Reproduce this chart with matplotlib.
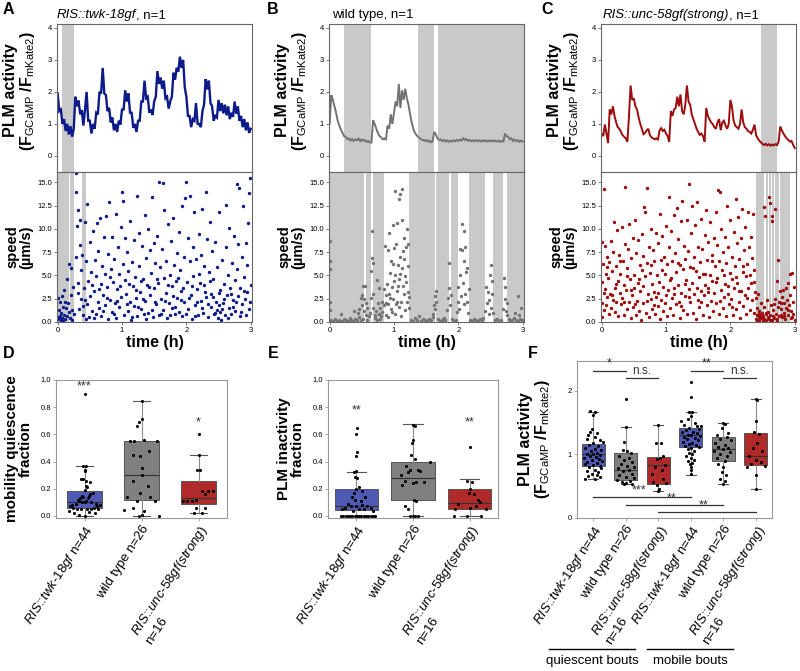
import numpy as np
import matplotlib
matplotlib.use('Agg')
from matplotlib import pyplot as plt
from matplotlib.lines import Line2D
from matplotlib.ticker import FormatStrFormatter

plt.rcParams['font.family'] = ['Liberation Sans', 'DejaVu Sans']
plt.rcParams['mathtext.fontset'] = 'custom'
plt.rcParams['mathtext.rm'] = 'Liberation Sans'
plt.rcParams['mathtext.it'] = 'Liberation Sans:italic'
plt.rcParams['mathtext.bf'] = 'Liberation Sans:bold'

# ---------------- A-C: PLM traces, one value every 0.025 h (0 .. 3 h) ----------------
trace_twk = [
    1.95, 1.40, 1.45, 1.00, 1.15, 0.78, 1.00, 0.67,   # 0.0
    0.93, 0.60, 0.85, 1.85, 1.55, 1.73, 1.30, 1.43,   # 0.2
    0.95, 1.45, 2.00, 1.10, 1.10, 0.70, 1.00, 0.85,   # 0.4
    1.35, 1.30, 2.00, 1.95, 2.75, 1.95, 1.90, 1.40,   # 0.6
    1.50, 1.05, 1.20, 0.80, 1.00, 0.75, 1.10, 0.98,   # 0.8
    1.45, 1.45, 2.05, 1.70, 1.95, 1.35, 1.35, 0.88,   # 1.0
    1.00, 0.75, 1.10, 1.10, 1.70, 1.70, 2.35, 1.80,   # 1.2
    1.85, 1.35, 1.45, 1.28, 1.70, 1.85, 2.65, 2.25,   # 1.4
    2.45, 2.10, 2.35, 1.80, 1.85, 1.48, 1.70, 1.85,   # 1.6
    2.60, 2.38, 2.75, 2.63, 3.10, 2.75, 3.00, 2.15,   # 1.8
    1.85, 1.25, 1.25, 0.90, 1.15, 1.10, 1.65, 1.00,   # 2.0
    1.00, 0.90, 1.40, 1.60, 2.40, 2.08, 2.35, 1.65,   # 2.2
    1.55, 1.10, 1.25, 1.20, 1.75, 1.40, 1.65, 1.33,   # 2.4
    1.60, 1.27, 1.55, 1.15, 1.35, 1.22, 1.70, 1.32,   # 2.6
    1.55, 1.10, 1.25, 0.90, 1.15, 0.80, 1.05, 0.72,   # 2.8
    0.85]
trace_wt = [
    1.00, 1.90, 1.75, 1.55, 1.35, 1.10, 0.95, 0.82,
    0.72, 0.62, 0.60, 0.52, 0.55, 0.48, 0.53, 0.47,
    0.52, 0.49, 0.54, 0.46, 0.52, 0.47, 0.50, 0.44,
    0.47, 0.42, 0.42, 1.12, 1.00, 0.85, 0.72, 0.62,
    0.58, 0.52, 0.55, 0.50, 0.95, 0.85, 1.30, 1.00,
    1.35, 1.70, 1.55, 2.25, 1.50, 2.05, 1.75, 2.10,
    1.80, 1.60, 1.30, 1.05, 0.85, 0.72, 0.65, 0.60,
    0.55, 0.52, 0.50, 0.47, 0.50, 0.45, 0.48, 0.43,
    0.46, 0.75, 0.68, 0.55, 0.50, 0.52, 0.47, 0.50,
    0.45, 0.49, 0.44, 0.48, 0.45, 0.49, 0.46, 0.50,
    0.47, 0.51, 0.48, 0.55, 0.50, 0.53, 0.47, 0.50,
    0.46, 0.49, 0.46, 0.50, 0.46, 0.49, 0.45, 0.49,
    0.46, 0.49, 0.45, 0.48, 0.45, 0.49, 0.46, 0.48,
    0.45, 0.48, 0.44, 0.47, 0.45, 0.70, 0.62, 0.60,
    0.52, 0.55, 0.47, 0.51, 0.46, 0.50, 0.44, 0.48,
    0.45]
trace_unc = [
    0.70, 0.62, 0.98, 0.70, 0.40, 1.45, 1.30, 1.55,
    1.25, 1.05, 0.90, 0.85, 0.75, 0.65, 0.60, 0.55,
    0.45, 1.25, 2.20, 1.75, 1.80, 1.55, 1.45, 1.20,
    1.00, 0.85, 0.68, 0.72, 0.80, 0.85, 0.65, 0.58,
    0.55, 0.52, 0.55, 0.50, 0.80, 0.87, 0.78, 0.82,
    0.70, 0.62, 0.45, 1.40, 1.25, 1.45, 1.50, 1.85,
    1.55, 1.92, 1.40, 1.30, 1.60, 2.20, 1.70, 1.60,
    1.30, 1.15, 1.00, 0.85, 0.75, 0.66, 0.70, 0.62,
    0.45, 1.50, 1.25, 1.15, 1.05, 1.00, 0.90, 0.85,
    1.05, 1.15, 0.80, 1.05, 1.10, 0.95, 0.85, 1.00,
    1.75, 1.55, 1.10, 0.95, 0.90, 0.85, 1.00, 1.45,
    1.05, 0.90, 0.85, 0.78, 0.75, 0.70, 0.82, 0.98,
    0.65, 0.55, 0.48, 0.42, 0.38, 0.34, 0.38, 0.33,
    0.37, 0.32, 0.36, 0.33, 0.37, 0.34, 0.45, 0.92,
    0.80, 0.70, 0.62, 0.55, 0.50, 0.45, 0.47, 0.35,
    0.25]

# quiescence bouts (h) shown as grey bands
twk_bouts_trace = [(0.06, 0.25)]
twk_bouts_speed = [(0.0, 0.18), (0.19, 0.25), (0.375, 0.435)]
wt_bouts_trace = [(0.22, 0.65), (1.38, 1.62), (1.69, 3.02)]
wt_bouts_speed = [(0.0, 0.54), (0.56, 0.64), (0.67, 0.76), (0.77, 0.84), (1.24, 1.63),
                  (1.66, 1.85), (1.88, 1.99), (2.16, 2.42), (2.54, 2.70), (2.76, 3.02)]
unc_bouts_trace = [(2.47, 2.73)]
unc_bouts_speed = [(2.40, 2.53), (2.55, 2.58), (2.60, 2.63), (2.65, 2.68), (2.70, 2.75), (2.77, 2.92)]

# speed samples (time h, speed um/s)
speed_twk = [
    (0.00, 0.5), (0.01, 2.6), (0.02, 0.3), (0.02, 1.3), (0.03, 0.6), (0.04, 2.1), (0.05, 0.2), (0.05, 1.0),
    (0.06, 2.8), (0.07, 0.4), (0.08, 1.6), (0.09, 0.1), (0.10, 3.4), (0.10, 0.8), (0.11, 2.2), (0.12, 0.3),
    (0.13, 1.5), (0.14, 4.6), (0.15, 0.6), (0.16, 2.0), (0.17, 1.1), (0.18, 6.2), (0.19, 0.4), (0.20, 2.9),
    (0.21, 5.8), (0.22, 1.3), (0.23, 0.2), (0.24, 3.8), (0.25, 0.9), (0.28, 16.0), (0.28, 14.0), (0.29, 7.0),
    (0.30, 10.3), (0.31, 4.2), (0.32, 12.0), (0.33, 1.4), (0.34, 11.0), (0.35, 8.3), (0.36, 5.6), (0.37, 2.5),
    (0.38, 7.2), (0.40, 0.8), (0.41, 3.6), (0.43, 10.7), (0.44, 6.5), (0.45, 1.9), (0.46, 12.7), (0.47, 4.4),
    (0.48, 0.5), (0.50, 8.6), (0.51, 2.8), (0.52, 5.4), (0.54, 1.2), (0.55, 9.8), (0.56, 3.3), (0.58, 6.7),
    (0.59, 0.9), (0.60, 4.9), (0.61, 10.6), (0.62, 2.2), (0.63, 7.6), (0.65, 1.5), (0.66, 11.2), (0.67, 4.1),
    (0.68, 0.6), (0.69, 6.0), (0.70, 2.9), (0.72, 9.1), (0.73, 5.2), (0.74, 1.8), (0.75, 11.4), (0.77, 3.8),
    (0.78, 0.3), (0.79, 7.3), (0.80, 12.9), (0.81, 2.4), (0.83, 5.7), (0.84, 9.1), (0.85, 1.1), (0.86, 4.3),
    (0.88, 6.8), (0.89, 2.0), (0.90, 11.6), (0.91, 0.4), (0.93, 3.5), (0.94, 8.0), (0.95, 5.1), (0.96, 1.6),
    (0.98, 10.2), (0.99, 2.7), (1.00, 13.9), (1.01, 6.2), (1.02, 13.0), (1.03, 0.8), (1.04, 4.5), (1.05, 9.0),
    (1.06, 3.0), (1.08, 7.5), (1.09, 1.2), (1.10, 5.5), (1.12, 2.1), (1.13, 10.8), (1.14, 0.2), (1.15, 6.4),
    (1.17, 3.9), (1.18, 8.8), (1.19, 1.7), (1.20, 4.8), (1.22, 2.6), (1.23, 13.5), (1.24, 0.6), (1.26, 6.0),
    (1.27, 9.5), (1.28, 3.2), (1.30, 1.4), (1.31, 8.2), (1.32, 4.6), (1.34, 0.9), (1.35, 11.5), (1.36, 2.3),
    (1.38, 6.9), (1.39, 4.0), (1.40, 10.0), (1.41, 1.0), (1.43, 7.7), (1.44, 2.9), (1.45, 5.3), (1.47, 13.4),
    (1.48, 0.5), (1.49, 8.5), (1.50, 3.6), (1.52, 6.3), (1.53, 1.9), (1.54, 9.2), (1.56, 4.2), (1.57, 0.7),
    (1.58, 15.0), (1.59, 5.9), (1.60, 2.5), (1.62, 7.8), (1.63, 14.9), (1.64, 1.3), (1.65, 12.0), (1.66, 4.7),
    (1.68, 3.1), (1.69, 6.6), (1.70, 0.4), (1.72, 10.5), (1.73, 2.0), (1.74, 5.0), (1.76, 8.7), (1.77, 1.5),
    (1.78, 3.9), (1.80, 11.2), (1.81, 6.1), (1.82, 0.9), (1.84, 4.4), (1.85, 7.4), (1.86, 2.6), (1.88, 9.7),
    (1.89, 1.1), (1.90, 5.6), (1.92, 3.3), (1.93, 12.5), (1.94, 0.6), (1.96, 7.0), (1.97, 2.1), (1.98, 13.3),
    (2.00, 15.0), (2.01, 4.3), (2.02, 9.0), (2.03, 1.4), (2.05, 6.5), (2.06, 13.5), (2.07, 2.9), (2.08, 0.3),
    (2.10, 8.0), (2.11, 4.9), (2.12, 11.8), (2.14, 1.8), (2.15, 6.8), (2.16, 3.5), (2.18, 0.8), (2.19, 9.4),
    (2.20, 5.2), (2.22, 2.3), (2.23, 7.2), (2.24, 12.1), (2.26, 1.0), (2.27, 4.0), (2.28, 6.0), (2.30, 14.0),
    (2.31, 2.7), (2.32, 8.9), (2.34, 0.5), (2.35, 5.4), (2.36, 10.7), (2.38, 3.0), (2.39, 1.6), (2.40, 7.6),
    (2.42, 4.6), (2.43, 0.9), (2.44, 8.6), (2.46, 2.2), (2.47, 1.3), (2.48, 5.9), (2.49, 0.4), (2.50, 1.8),
    (2.51, 11.8), (2.52, 1.1), (2.53, 3.4), (2.54, 0.2), (2.56, 6.7), (2.57, 2.0), (2.58, 4.1), (2.60, 0.7),
    (2.61, 12.6), (2.62, 8.0), (2.63, 2.9), (2.65, 5.0), (2.66, 1.5), (2.67, 10.1), (2.68, 3.7), (2.70, 0.9),
    (2.71, 6.3), (2.72, 2.4), (2.74, 9.2), (2.75, 4.5), (2.76, 1.2), (2.78, 14.8), (2.79, 5.7), (2.80, 2.8),
    (2.81, 8.4), (2.82, 14.4), (2.83, 0.6), (2.84, 3.6), (2.86, 7.0), (2.87, 1.9), (2.88, 12.4), (2.89, 4.8),
    (2.91, 2.5), (2.92, 8.5), (2.93, 0.8), (2.94, 6.1), (2.95, 3.2), (2.96, 10.6), (2.97, 1.4), (2.98, 13.8),
    (2.99, 15.5), (3.00, 4.0),
    # extra low-speed samples (dense band below 5 um/s)
    (0.32, 3.1), (0.39, 1.7), (0.42, 2.4), (0.53, 4.0), (0.57, 0.4), (0.64, 3.5), (0.71, 1.2), (0.76, 2.6),
    (0.82, 4.8), (0.87, 0.9), (0.92, 2.3), (0.97, 3.9), (1.07, 1.9), (1.11, 4.1), (1.16, 0.5), (1.21, 3.4),
    (1.25, 1.6), (1.29, 4.4), (1.33, 2.5), (1.37, 0.3), (1.42, 3.8), (1.46, 1.3), (1.51, 2.2), (1.55, 4.6),
    (1.61, 0.9), (1.67, 2.3), (1.71, 4.0), (1.75, 0.8), (1.79, 2.8), (1.83, 1.6), (1.87, 4.7), (1.91, 2.4),
    (1.95, 3.7), (1.99, 0.9), (2.04, 2.6), (2.09, 3.9), (2.13, 0.6), (2.17, 2.1), (2.21, 4.2), (2.25, 1.5),
    (2.29, 3.2), (2.33, 1.9), (2.37, 4.4), (2.41, 2.7), (2.45, 1.0), (2.50, 3.1), (2.55, 1.4), (2.59, 2.5),
    (2.64, 0.4), (2.69, 3.0), (2.73, 1.6), (2.77, 2.2), (2.85, 1.1), (2.90, 3.3), (2.99, 2.2), (0.44, 0.3)]
speed_wt = [
    (0.00, 8.7), (0.00, 6.5), (0.00, 5.7), (0.00, 2.2), (0.00, 1.3),
    (0.02, 0.2), (0.05, 0.1), (0.08, 0.3), (0.11, 0.1), (0.14, 0.2), (0.17, 0.9), (0.19, 0.1), (0.22, 0.3),
    (0.25, 0.2), (0.28, 0.1), (0.31, 0.4), (0.33, 0.2), (0.36, 0.1), (0.38, 1.2), (0.40, 0.3), (0.43, 0.2),
    (0.44, 1.0), (0.46, 1.4), (0.48, 2.6), (0.50, 1.8), (0.51, 2.9), (0.52, 3.9), (0.53, 1.2), (0.54, 2.5),
    (0.55, 3.9), (0.56, 0.8), (0.57, 2.0), (0.58, 1.5), (0.46, 0.5), (0.49, 0.2), (0.52, 0.3), (0.58, 0.2),
    (0.61, 0.6), (0.62, 1.0), (0.64, 2.6), (0.65, 5.5), (0.66, 9.8), (0.66, 6.9), (0.67, 6.3), (0.68, 3.0),
    (0.68, 1.5), (0.70, 0.8), (0.70, 0.4), (0.72, 1.2), (0.73, 0.2), (0.74, 4.5), (0.75, 2.0), (0.76, 0.9),
    (0.77, 3.7), (0.78, 1.5), (0.79, 0.3), (0.80, 0.6), (0.81, 2.2), (0.82, 1.1),
    (0.84, 3.5), (0.85, 1.8), (0.86, 8.2), (0.87, 2.9), (0.88, 0.7), (0.89, 4.1), (0.90, 1.9), (0.91, 7.7),
    (0.92, 3.0), (0.93, 9.5), (0.94, 5.3), (0.95, 1.4), (0.96, 6.6), (0.97, 3.8), (0.98, 10.4), (0.99, 2.5),
    (1.00, 7.9), (1.01, 14.1), (1.02, 5.0), (1.02, 0.9), (1.03, 8.4), (1.04, 3.3), (1.05, 10.6), (1.06, 6.1),
    (1.07, 1.6), (1.08, 13.2), (1.08, 4.6), (1.09, 13.7), (1.10, 7.0), (1.11, 2.2), (1.12, 11.0), (1.12, 5.8),
    (1.13, 14.3), (1.14, 3.9), (1.15, 9.0), (1.16, 6.8), (1.17, 1.3), (1.18, 8.0), (1.19, 4.3), (1.20, 10.0),
    (1.21, 3.2), (1.22, 6.0), (1.23, 1.5), (1.23, 2.7),
    (0.88, 2.0), (0.91, 0.5), (0.94, 2.6), (0.97, 1.1), (1.00, 4.4), (1.03, 1.9), (1.06, 3.9), (1.09, 5.2),
    (1.11, 0.6), (1.14, 7.6), (1.17, 4.9), (1.20, 2.1), (1.22, 8.4), (1.05, 2.2), (0.99, 6.2), (1.16, 3.0),
    (1.27, 0.2), (1.30, 0.1), (1.33, 0.4), (1.36, 0.2), (1.39, 0.6), (1.42, 0.1), (1.45, 0.3), (1.48, 0.2),
    (1.51, 0.1), (1.54, 0.3), (1.57, 0.2), (1.60, 0.5), (1.61, 0.9), (1.62, 1.8), (1.63, 2.8), (1.64, 1.4),
    (1.65, 3.3), (1.66, 2.1), (1.68, 0.3), (1.71, 0.1), (1.74, 0.2), (1.77, 0.4), (1.80, 0.2),
    (1.83, 1.3), (1.84, 2.6), (1.85, 6.3), (1.86, 3.7), (1.87, 1.8), (1.88, 2.9), (1.90, 0.3), (1.93, 0.1),
    (1.96, 0.2), (1.98, 1.1), (1.99, 2.2), (2.00, 3.8), (2.01, 1.4), (2.02, 7.8), (2.03, 5.0), (2.04, 2.8),
    (2.05, 10.5), (2.06, 7.7), (2.07, 4.2), (2.08, 9.8), (2.08, 1.9), (2.09, 6.5), (2.10, 3.0), (2.11, 8.0),
    (2.12, 5.4), (2.13, 2.1), (2.14, 5.8), (2.15, 1.0), (2.16, 3.5),
    (2.18, 0.2), (2.21, 0.1), (2.24, 0.3), (2.27, 0.2), (2.30, 0.1), (2.33, 0.3), (2.36, 0.2), (2.39, 0.4),
    (2.42, 1.2), (2.43, 3.8), (2.44, 2.0), (2.46, 3.2), (2.47, 0.9), (2.48, 2.4), (2.49, 5.0), (2.50, 1.5),
    (2.51, 6.1), (2.52, 3.0), (2.53, 4.4), (2.54, 1.0), (2.57, 0.2), (2.60, 0.3), (2.63, 0.1), (2.66, 0.2),
    (2.70, 1.4), (2.71, 4.7), (2.72, 2.5), (2.73, 3.8), (2.74, 1.2), (2.75, 2.0), (2.76, 0.8),
    (2.78, 0.3), (2.81, 0.1), (2.84, 0.2), (2.87, 0.4), (2.88, 1.0), (2.90, 0.2), (2.92, 2.8), (2.93, 0.1),
    (2.95, 0.8), (2.96, 0.3), (2.98, 1.5), (2.99, 0.2)]
speed_unc = [
    (0.00, 4.3), (0.00, 0.5), (0.01, 8.6), (0.01, 2.0), (0.02, 6.2), (0.03, 1.3), (0.04, 14.3), (0.05, 8.2),
    (0.05, 3.5), (0.06, 5.1), (0.07, 1.8), (0.08, 7.0), (0.09, 2.7), (0.10, 4.7), (0.11, 0.9), (0.12, 6.4),
    (0.13, 3.0), (0.14, 8.7), (0.15, 1.5), (0.16, 5.5), (0.17, 2.4), (0.18, 7.5), (0.19, 10.7), (0.20, 3.7),
    (0.21, 1.1), (0.22, 6.0), (0.23, 2.2), (0.24, 9.9), (0.25, 4.4), (0.26, 0.6), (0.27, 7.2), (0.28, 3.1),
    (0.29, 5.2), (0.30, 1.9), (0.31, 10.2), (0.32, 2.6), (0.33, 6.6), (0.34, 4.0), (0.35, 0.8), (0.36, 8.4),
    (0.37, 14.5), (0.38, 3.4), (0.39, 5.8), (0.40, 1.4), (0.41, 7.8), (0.42, 2.1), (0.43, 10.5), (0.44, 4.6),
    (0.45, 0.4), (0.46, 6.9), (0.47, 2.9), (0.48, 9.0), (0.49, 1.6), (0.50, 5.0), (0.51, 3.6), (0.52, 11.0),
    (0.53, 0.7), (0.54, 7.4), (0.55, 2.3), (0.56, 4.2), (0.57, 8.8), (0.58, 1.2), (0.59, 6.1), (0.60, 3.3),
    (0.61, 0.2), (0.62, 9.4), (0.63, 5.6), (0.64, 2.0), (0.65, 7.1), (0.66, 12.3), (0.67, 4.9), (0.68, 11.8),
    (0.69, 1.0), (0.70, 14.4), (0.71, 6.3), (0.72, 3.0), (0.73, 8.1), (0.74, 0.5), (0.75, 5.3), (0.76, 2.5),
    (0.77, 10.0), (0.78, 4.1), (0.79, 1.4), (0.80, 7.7), (0.81, 3.2), (0.82, 6.5), (0.83, 0.9), (0.84, 9.6),
    (0.85, 2.7), (0.86, 5.0), (0.87, 1.7), (0.88, 8.5), (0.89, 4.3), (0.90, 11.6), (0.91, 0.3), (0.92, 6.7),
    (0.93, 2.4), (0.94, 9.2), (0.95, 3.8), (0.96, 1.2), (0.97, 7.0), (0.98, 5.1), (0.99, 2.0), (1.00, 10.3),
    (1.01, 0.6), (1.02, 6.2), (1.03, 3.4), (1.04, 8.0), (1.05, 13.4), (1.06, 1.5), (1.07, 4.7), (1.08, 9.8),
    (1.09, 2.6), (1.10, 6.6), (1.11, 0.8), (1.12, 11.5), (1.13, 3.7), (1.14, 7.4), (1.15, 5.4), (1.16, 1.9),
    (1.17, 12.2), (1.18, 4.0), (1.19, 8.9), (1.20, 2.2), (1.21, 6.1), (1.22, 0.4), (1.23, 10.8), (1.24, 3.1),
    (1.25, 13.0), (1.26, 5.7), (1.27, 1.3), (1.28, 8.2), (1.29, 2.8), (1.30, 6.8), (1.31, 4.5), (1.32, 11.0),
    (1.33, 0.9), (1.34, 7.6), (1.35, 3.5), (1.36, 14.8), (1.37, 5.9), (1.38, 2.1), (1.39, 9.5), (1.40, 12.5),
    (1.41, 4.2), (1.42, 1.0), (1.43, 7.0), (1.44, 3.0), (1.45, 10.4), (1.46, 5.5), (1.47, 0.3), (1.48, 12.9),
    (1.49, 2.4), (1.50, 8.0), (1.51, 4.8), (1.52, 1.6), (1.53, 6.4), (1.54, 11.1), (1.55, 3.3), (1.56, 7.8),
    (1.57, 0.7), (1.58, 5.2), (1.59, 2.9), (1.60, 9.3), (1.61, 4.0), (1.62, 12.0), (1.63, 1.8), (1.64, 6.7),
    (1.65, 3.6), (1.66, 8.6), (1.67, 0.5), (1.68, 5.0), (1.69, 10.7), (1.70, 2.3), (1.71, 7.2), (1.72, 4.4),
    (1.73, 1.2), (1.74, 9.0), (1.75, 3.1), (1.76, 6.0), (1.77, 11.8), (1.78, 2.0), (1.79, 8.3), (1.80, 4.7),
    (1.81, 14.2), (1.82, 0.9), (1.83, 6.5), (1.84, 13.9), (1.85, 3.4), (1.86, 10.0), (1.87, 5.6), (1.88, 1.5),
    (1.89, 7.5), (1.90, 2.7), (1.91, 9.1), (1.92, 4.1), (1.93, 0.6), (1.94, 6.3), (1.95, 12.4), (1.96, 3.0),
    (1.97, 8.1), (1.98, 1.9), (1.99, 5.3), (2.00, 10.9), (2.01, 2.5), (2.02, 7.0), (2.03, 4.6), (2.04, 0.8),
    (2.05, 9.7), (2.06, 3.7), (2.07, 6.0), (2.08, 13.2), (2.09, 1.4), (2.10, 8.5), (2.11, 4.2), (2.12, 11.3),
    (2.13, 2.2), (2.14, 6.8), (2.15, 0.4), (2.16, 9.0), (2.17, 3.3), (2.18, 12.1), (2.19, 5.4), (2.20, 1.7),
    (2.21, 7.7), (2.22, 2.9), (2.23, 10.2), (2.24, 4.9), (2.25, 0.9), (2.26, 6.2), (2.27, 11.8), (2.28, 3.6),
    (2.29, 8.0), (2.30, 1.3), (2.31, 5.0), (2.32, 9.1), (2.33, 2.4), (2.34, 6.9), (2.35, 11.6), (2.36, 4.3),
    (2.37, 1.0), (2.38, 3.2),
    (0.03, 3.1), (0.09, 5.9), (0.16, 2.9), (0.22, 4.1), (0.28, 6.5), (0.34, 2.2), (0.40, 4.9), (0.46, 3.4),
    (0.52, 1.9), (0.58, 4.6), (0.64, 3.9), (0.70, 2.3), (0.76, 6.1), (0.82, 1.8), (0.88, 3.1), (0.94, 5.6),
    (1.00, 2.9), (1.06, 4.5), (1.12, 3.0), (1.18, 6.3), (1.24, 1.7), (1.30, 4.1), (1.36, 2.7), (1.42, 5.8),
    (1.48, 3.6), (1.54, 2.1), (1.60, 5.1), (1.66, 3.2), (1.72, 6.6), (1.78, 4.3), (1.84, 2.3), (1.90, 5.0),
    (1.96, 3.9), (2.02, 1.6), (2.08, 4.8), (2.14, 3.3), (2.20, 6.0), (2.26, 2.6), (2.32, 4.2), (2.37, 5.6),
    (2.40, 0.3), (2.40, 2.6), (2.41, 0.8), (2.42, 1.5), (2.42, 0.1), (2.43, 3.0), (2.44, 0.5), (2.45, 1.2),
    (2.45, 0.2), (2.46, 0.7), (2.47, 2.0), (2.48, 0.4), (2.49, 1.0), (2.50, 0.1), (2.51, 0.6), (2.52, 12.3),
    (2.52, 1.6), (2.53, 0.3), (2.54, 11.4), (2.55, 0.9), (2.56, 0.2), (2.57, 2.4), (2.58, 0.5), (2.59, 1.1),
    (2.60, 13.4), (2.60, 0.3), (2.61, 12.8), (2.62, 0.7), (2.63, 1.8), (2.64, 10.8), (2.64, 0.2), (2.65, 11.4),
    (2.66, 0.6), (2.67, 1.3), (2.68, 0.4), (2.69, 12.1), (2.70, 2.5), (2.71, 0.9), (2.72, 4.4), (2.73, 0.3),
    (2.74, 6.7), (2.74, 1.6), (2.75, 0.6), (2.76, 2.2), (2.77, 3.3), (2.78, 0.8), (2.79, 1.4), (2.80, 2.7),
    (2.81, 0.5), (2.82, 3.4), (2.83, 1.0), (2.84, 2.0), (2.85, 0.3), (2.86, 3.6), (2.87, 1.5), (2.88, 2.4),
    (2.89, 0.7), (2.90, 4.2), (2.91, 1.8), (2.92, 5.1), (2.93, 2.9), (2.94, 0.4), (2.95, 1.2), (2.96, 5.3),
    (2.97, 2.1), (2.98, 0.9), (2.99, 3.8), (3.00, 0.2), (2.44, 0.9), (2.50, 0.5), (2.56, 1.0), (2.62, 0.2),
    (2.68, 1.9), (2.72, 0.1), (2.78, 2.0), (2.84, 0.6), (2.90, 1.3), (2.96, 0.5)]

# ---------------- D-F: box plot summaries and individual worms (jitter, value) ----------------
mob_q1 = [0.055, 0.115, 0.085]
mob_med = [0.10, 0.30, 0.13]
mob_q3 = [0.18, 0.555, 0.26]
mob_lo = [0.0, 0.0, 0.02]
mob_hi = [0.365, 0.845, 0.445]
mob_pts = [
    [(0.0, 0.90), (-0.02, 0.365), (0.02, 0.365), (0.01, 0.34), (0.0, 0.33), (-0.07, 0.275), (-0.03, 0.27),
     (0.02, 0.26), (0.10, 0.25), (0.03, 0.22), (0.05, 0.21), (0.0, 0.19), (0.15, 0.17), (0.10, 0.16),
     (0.08, 0.15), (-0.04, 0.15), (-0.02, 0.14), (-0.08, 0.13), (0.06, 0.13), (-0.12, 0.12), (-0.10, 0.11),
     (0.02, 0.11), (-0.05, 0.10), (0.0, 0.10), (0.12, 0.10), (-0.15, 0.09), (0.20, 0.09), (-0.22, 0.08),
     (0.27, 0.08), (-0.25, 0.07), (0.22, 0.07), (-0.20, 0.06), (0.16, 0.06), (-0.13, 0.05), (-0.06, 0.05),
     (0.05, 0.05), (0.11, 0.05), (0.24, 0.05), (-0.28, 0.04), (-0.18, 0.02), (0.18, 0.02), (-0.10, 0.01),
     (0.0, 0.0), (0.08, 0.03)],
    [(0.0, 0.845), (0.0, 0.71), (-0.04, 0.69), (-0.08, 0.66), (0.05, 0.56), (-0.20, 0.55), (0.28, 0.55),
     (-0.14, 0.55), (0.13, 0.48), (-0.15, 0.45), (-0.02, 0.44), (0.0, 0.35), (0.0, 0.30), (-0.15, 0.26),
     (0.12, 0.22), (-0.02, 0.17), (-0.25, 0.14), (0.15, 0.14), (0.24, 0.11), (-0.08, 0.11), (-0.15, 0.06),
     (-0.30, 0.045), (0.05, 0.04), (0.0, 0.005), (0.30, 0.0), (-0.05, 0.0)],
    [(0.0, 0.60), (0.0, 0.445), (-0.03, 0.34), (0.03, 0.34), (0.07, 0.18), (0.17, 0.18), (0.25, 0.18),
     (0.12, 0.16), (-0.28, 0.11), (-0.20, 0.11), (-0.12, 0.11), (-0.04, 0.12), (-0.05, 0.06), (0.12, 0.06),
     (-0.08, 0.02), (0.06, 0.02)]]

inact_q1 = [0.045, 0.12, 0.05]
inact_med = [0.07, 0.28, 0.095]
inact_q3 = [0.195, 0.395, 0.20]
inact_lo = [0.0, 0.0, 0.0]
inact_hi = [0.325, 0.675, 0.275]
inact_pts = [
    [(0.02, 0.65), (0.0, 0.60), (0.02, 0.47), (0.0, 0.44), (0.0, 0.33), (-0.04, 0.32), (-0.03, 0.29),
     (0.02, 0.28), (0.05, 0.21), (0.0, 0.20), (0.10, 0.18), (-0.05, 0.17), (-0.08, 0.14), (0.15, 0.14),
     (-0.03, 0.12), (0.08, 0.11), (-0.15, 0.09), (0.10, 0.08), (-0.10, 0.07), (0.0, 0.07), (0.18, 0.07),
     (-0.20, 0.06), (0.25, 0.06), (-0.25, 0.05), (0.05, 0.05), (0.13, 0.05), (-0.06, 0.04), (0.30, 0.04),
     (-0.27, 0.0), (-0.23, 0.0), (-0.19, 0.0), (-0.15, 0.0), (-0.11, 0.0), (-0.07, 0.0), (-0.03, 0.0),
     (0.01, 0.0), (0.05, 0.0), (0.09, 0.0), (0.13, 0.0), (0.17, 0.0), (0.21, 0.0), (0.25, 0.0), (0.29, 0.0),
     (0.33, 0.0)],
    [(0.0, 0.67), (0.03, 0.66), (0.0, 0.56), (-0.02, 0.54), (-0.03, 0.45), (0.03, 0.42), (0.30, 0.40),
     (-0.12, 0.37), (-0.05, 0.34), (0.08, 0.34), (0.13, 0.33), (-0.08, 0.32), (-0.22, 0.30), (-0.15, 0.26),
     (0.05, 0.25), (0.20, 0.25), (0.0, 0.24), (-0.20, 0.23), (0.02, 0.12), (0.05, 0.11), (-0.15, 0.07),
     (-0.08, 0.05), (-0.05, 0.0), (0.0, 0.0), (0.08, 0.0), (0.03, 0.0)],
    [(0.0, 0.51), (-0.05, 0.26), (0.05, 0.25), (0.0, 0.20), (-0.02, 0.17), (0.08, 0.16), (0.15, 0.12),
     (0.18, 0.10), (-0.20, 0.09), (0.12, 0.07), (0.0, 0.06), (-0.25, 0.05), (0.28, 0.05), (-0.28, 0.0),
     (0.20, 0.0), (-0.05, 0.0)]]

plm_q1 = [0.82, 0.605, 0.54, 1.11, 0.90, 0.84]
plm_med = [1.00, 0.76, 0.83, 1.31, 1.09, 0.97]
plm_q3 = [1.16, 1.03, 0.96, 1.41, 1.27, 1.33]
plm_lo = [0.61, 0.53, 0.43, 0.68, 0.53, 0.46]
plm_hi = [1.67, 1.43, 1.46, 1.66, 1.50, 1.87]
plm_pts = [
    [(-0.10, 1.68), (0.05, 1.66), (0.0, 1.62), (-0.05, 1.40), (-0.10, 1.36), (0.10, 1.33), (-0.15, 1.30),
     (0.05, 1.27), (-0.20, 1.24), (0.20, 1.22), (0.0, 1.18), (-0.12, 1.15), (0.15, 1.13), (-0.25, 1.10),
     (0.05, 1.09), (0.25, 1.07), (-0.08, 1.05), (0.12, 1.03), (-0.20, 1.01), (0.0, 1.00), (0.22, 0.99),
     (-0.10, 0.98), (0.08, 0.96), (-0.28, 0.95), (0.18, 0.93), (-0.05, 0.91), (0.28, 0.90), (-0.18, 0.88),
     (0.10, 0.87), (-0.25, 0.85), (0.0, 0.84), (0.20, 0.82), (-0.12, 0.80), (0.25, 0.78), (0.05, 0.76),
     (-0.20, 0.74), (0.15, 0.72), (-0.05, 0.70), (0.10, 0.68), (-0.15, 0.66), (0.20, 0.64), (-0.25, 0.62),
     (0.05, 0.61), (0.30, 1.20)],
    [(0.0, 1.87), (0.0, 1.43), (-0.05, 1.20), (-0.10, 1.07), (0.05, 1.05), (0.15, 1.02), (-0.20, 0.98),
     (0.10, 0.95), (-0.05, 0.92), (0.20, 0.88), (-0.15, 0.85), (0.05, 0.82), (0.25, 0.80), (-0.25, 0.78),
     (0.10, 0.76), (-0.10, 0.74), (0.18, 0.70), (-0.20, 0.68), (0.0, 0.65), (0.25, 0.63), (-0.28, 0.60),
     (0.12, 0.58), (-0.12, 0.56), (0.02, 0.55), (0.20, 0.53), (-0.05, 0.53)],
    [(0.0, 1.46), (-0.08, 1.18), (0.08, 1.18), (0.15, 0.98), (0.05, 0.95), (-0.05, 0.93), (0.20, 0.83),
     (-0.10, 0.80), (0.10, 0.75), (-0.20, 0.70), (0.15, 0.62), (-0.15, 0.57), (0.25, 0.55), (-0.05, 0.52),
     (0.02, 0.45), (-0.02, 0.43)],
    [(0.0, 2.14), (0.0, 1.91), (-0.05, 1.67), (0.05, 1.66), (0.0, 1.60), (-0.10, 1.55), (0.12, 1.50),
     (-0.20, 1.47), (0.20, 1.45), (-0.05, 1.42), (0.25, 1.40), (-0.15, 1.38), (0.08, 1.36), (-0.28, 1.35),
     (0.18, 1.33), (-0.08, 1.31), (0.0, 1.30), (0.28, 1.29), (-0.20, 1.27), (0.12, 1.26), (-0.12, 1.24),
     (0.22, 1.22), (-0.25, 1.20), (0.05, 1.18), (-0.05, 1.16), (0.15, 1.15), (-0.18, 1.13), (0.25, 1.12),
     (0.0, 1.10), (-0.10, 1.08), (0.10, 1.06), (-0.05, 1.03), (0.05, 1.00), (-0.15, 0.97), (0.0, 0.95),
     (0.10, 0.92), (-0.08, 0.90), (0.05, 0.87), (-0.02, 0.85), (0.02, 0.80), (0.0, 0.75), (0.0, 0.70),
     (-0.30, 1.52), (0.30, 1.44)],
    [(0.0, 1.50), (0.05, 1.48), (-0.05, 1.42), (0.15, 1.33), (-0.20, 1.30), (0.10, 1.28), (-0.10, 1.25),
     (0.25, 1.22), (-0.25, 1.18), (0.05, 1.15), (-0.15, 1.12), (0.15, 1.10), (0.0, 1.08), (-0.28, 1.06),
     (0.20, 1.04), (-0.10, 1.00), (0.10, 0.98), (-0.20, 0.95), (0.05, 0.90), (-0.15, 0.85), (0.0, 0.80),
     (-0.05, 0.72), (0.08, 0.68), (-0.10, 0.62), (0.05, 0.58), (0.0, 0.53)],
    [(0.0, 1.87), (0.05, 1.85), (0.0, 1.53), (-0.05, 1.35), (0.10, 1.32), (0.05, 1.18), (-0.10, 1.10),
     (0.20, 1.05), (-0.20, 0.97), (0.0, 0.92), (0.15, 0.88), (-0.15, 0.85), (0.28, 0.82), (-0.28, 0.80),
     (0.0, 0.67), (0.0, 0.46)]]

lab_twk = r"$\mathit{RIS}$::$\mathit{twk}$-$\mathit{18gf}$ n=44"
lab_wt = "wild type n=26"
lab_unc = r"$\mathit{RIS}$::$\mathit{unc}$-$\mathit{58gf(strong)}$" + "\nn=16"
group_labels = [lab_twk, lab_wt, lab_unc]

BLUE_LINE, GREY_LINE, RED_LINE = '#0c1a8a', '#737373', '#9c0c0c'
BOX_COLS = ['#4e5ab4', '#808080', '#b02a2a']
SHADE = '#c9c9c9'
plm_label = "PLM activity\n(F$_{\\mathrm{GCaMP}}$ /F$_{\\mathrm{mKate2}}$)"

W, H = 800, 671
fig = plt.figure(figsize=(8, 6.71), dpi=100)


def px_axes(l, t, r, b):
    return fig.add_axes([l / W, 1 - b / H, (r - l) / W, (b - t) / H])


def frame(ax, col):
    for s in ax.spines.values():
        s.set_color(col)
        s.set_linewidth(0.8)
    ax.tick_params(labelsize=5.5, length=2, width=0.6, color=col, pad=1.5)


def rich_text(x, y, parts, size):
    r = fig.canvas.get_renderer()
    for s, st in parts:
        t = fig.text(x / W, 1 - y / H, s, fontsize=size, style=st, va='center', ha='left')
        x += t.get_window_extent(renderer=r).width


def trace_panel(left, trace, col, lw, bouts_tr, bouts_sp, speed):
    ax1 = px_axes(left, 24, left + 195, 172)
    ax2 = px_axes(left, 172, left + 195, 322)
    for a, b in bouts_tr:
        ax1.axvspan(a, b, color=SHADE, lw=0, zorder=0)
    for a, b in bouts_sp:
        ax2.axvspan(a, b, color=SHADE, lw=0, zorder=0)
    ax1.plot(np.linspace(0, 3, len(trace)), trace, color=col, lw=lw, zorder=2, solid_joinstyle='miter')
    sp = np.array(speed)
    ax2.scatter(sp[:, 0], sp[:, 1], s=6, color=col, lw=0, zorder=2)
    for ax in (ax1, ax2):
        ax.set_xlim(-0.01, 3.02)
        frame(ax, '#666666')
    ax1.set_ylim(-0.5, 4.12)
    ax1.set_yticks([0, 1, 2, 3, 4])
    ax1.set_xticks([])
    ax2.set_ylim(0, 16.1)
    ax2.set_yticks(np.arange(0, 15.1, 2.5))
    ax2.yaxis.set_major_formatter(FormatStrFormatter('%.1f'))
    ax2.set_xticks([0, 1, 2, 3])
    ax1.set_ylabel(plm_label, fontsize=11.5, fontweight='bold', linespacing=1.0)
    ax1.yaxis.set_label_coords(-0.105, 0.55)
    ax2.set_ylabel('speed\n(µm/s)', fontsize=10.5, fontweight='bold', linespacing=1.0)
    ax2.yaxis.set_label_coords(-0.12, 0.5)
    ax2.set_xlabel('time (h)', fontsize=11.5, fontweight='bold', labelpad=1)
    return ax1, ax2


def box_panel(l, t, r, b, q1, med, q3, lo, hi, pts, cols, width, ylim, yticks, fmt):
    ax = px_axes(l, t, r, b)
    pos = np.arange(1, len(q1) + 1)
    stats = [dict(q1=a, med=m, q3=c, whislo=w0, whishi=w1, fliers=[])
             for a, m, c, w0, w1 in zip(q1, med, q3, lo, hi)]
    bp = ax.bxp(stats, positions=pos, widths=width, patch_artist=True, showfliers=False,
                boxprops=dict(edgecolor='#555555', linewidth=0.7),
                medianprops=dict(color='#333333', linewidth=0.8),
                whiskerprops=dict(color='#8a8a8a', linewidth=0.8),
                capprops=dict(color='#555555', linewidth=0.8), capwidths=width * 0.45)
    for patch, c in zip(bp['boxes'], cols):
        patch.set_facecolor(c)
    for p, grp in zip(pos, pts):
        g = np.array(grp)
        ax.scatter(p + g[:, 0], g[:, 1], s=5, color='k', lw=0, zorder=4, clip_on=False)
    ax.set_xlim(0.5, len(q1) + 0.5)
    ax.set_ylim(*ylim)
    ax.set_yticks(yticks)
    ax.yaxis.set_major_formatter(FormatStrFormatter(fmt))
    frame(ax, '#999999')
    ax.set_xticks(pos)
    return ax


# ---- A, B, C ----
trace_panel(57, trace_twk, BLUE_LINE, 1.7, twk_bouts_trace, twk_bouts_speed, speed_twk)
trace_panel(329, trace_wt, GREY_LINE, 1.4, wt_bouts_trace, wt_bouts_speed, speed_wt)
trace_panel(601, trace_unc, RED_LINE, 1.4, unc_bouts_trace, unc_bouts_speed, speed_unc)
rich_text(57, 15, [("RIS::twk-18gf", 'italic'), (", n=1", 'normal')], 9.5)
rich_text(332, 15, [("wild type, n=1", 'normal')], 9.5)
rich_text(603, 15, [("RIS::unc-58gf(strong)", 'italic'), (", n=1", 'normal')], 9.5)

lab_kw = dict(rotation=57, ha='right', rotation_mode='anchor', fontsize=9.5, multialignment='left')

# ---- D ----
axD = box_panel(56, 380, 227, 518, mob_q1, mob_med, mob_q3, mob_lo, mob_hi, mob_pts,
                BOX_COLS, 0.63, (-0.015, 1.0), np.arange(0, 1.01, 0.2), '%.1f')
axD.set_xticklabels(group_labels, **lab_kw)
axD.set_ylabel("mobility quiescence\nfraction", fontsize=11, fontweight='bold', linespacing=1.0)
axD.yaxis.set_label_coords(-0.135, 0.5)
axD.text(1, 0.955, '***', ha='center', va='center', fontsize=9, color='#333333')
axD.text(3, 0.685, '*', ha='center', va='center', fontsize=9, color='#333333')

# ---- E ----
axE = box_panel(328, 380, 498, 518, inact_q1, inact_med, inact_q3, inact_lo, inact_hi, inact_pts,
                BOX_COLS, 0.77, (-0.015, 1.0), np.arange(0, 1.01, 0.2), '%.1f')
axE.set_xticklabels(group_labels, **lab_kw)
axE.set_ylabel("PLM inactivity\nfraction", fontsize=11, fontweight='bold', linespacing=1.0)
axE.yaxis.set_label_coords(-0.135, 0.5)
axE.text(1, 0.775, '**', ha='center', va='center', fontsize=9, color='#333333')
axE.text(3, 0.685, '**', ha='center', va='center', fontsize=9, color='#333333')

# ---- F ----
axF = box_panel(577, 361, 772, 518, plm_q1, plm_med, plm_q3, plm_lo, plm_hi, plm_pts,
                BOX_COLS * 2, 0.7, (0, 2.47), [0, 1, 2], '%d')
axF.set_xticklabels(group_labels * 2, **lab_kw)
axF.set_ylabel(plm_label, fontsize=11.5, fontweight='bold', linespacing=1.0)
axF.yaxis.set_label_coords(-0.13, 0.5)
sig_top = [(1, 2, 2.315, '*'), (2, 3, 2.205, 'n.s.'), (4, 5, 2.315, '**'), (5, 6, 2.205, 'n.s.')]
sig_bot = [(1, 4, 0.33, '***'), (2, 5, 0.205, '**'), (3, 6, 0.095, '**')]
for x0, x1, y, s in sig_top + sig_bot:
    axF.plot([x0, x1], [y, y], color='#333333', lw=0.9, clip_on=False)
    axF.text((x0 + x1) / 2 - (0.1 if s.startswith('*') and y < 1 else 0), y + 0.015, s,
             ha='center', va='bottom', fontsize=8.5 if s == 'n.s.' else 9, color='#333333')

fig.add_artist(Line2D([549 / W, 635 / W], [1 - 649 / H] * 2, color='k', lw=1))
fig.add_artist(Line2D([647 / W, 733 / W], [1 - 649 / H] * 2, color='k', lw=1))
fig.text(592 / W, 1 - 661 / H, 'quiescent bouts', ha='center', va='center', fontsize=9.5)
fig.text(690 / W, 1 - 661 / H, 'mobile bouts', ha='center', va='center', fontsize=9.5)

# panel letters
for letter, x, y in [('A', 3, 10), ('B', 267, 10), ('C', 541, 10),
                     ('D', 3, 354), ('E', 268, 354), ('F', 528, 354)]:
    fig.text(x / W, 1 - y / H, letter, fontsize=11.5, fontweight='bold', ha='left', va='center')

fig.savefig('out.png', dpi=100)
